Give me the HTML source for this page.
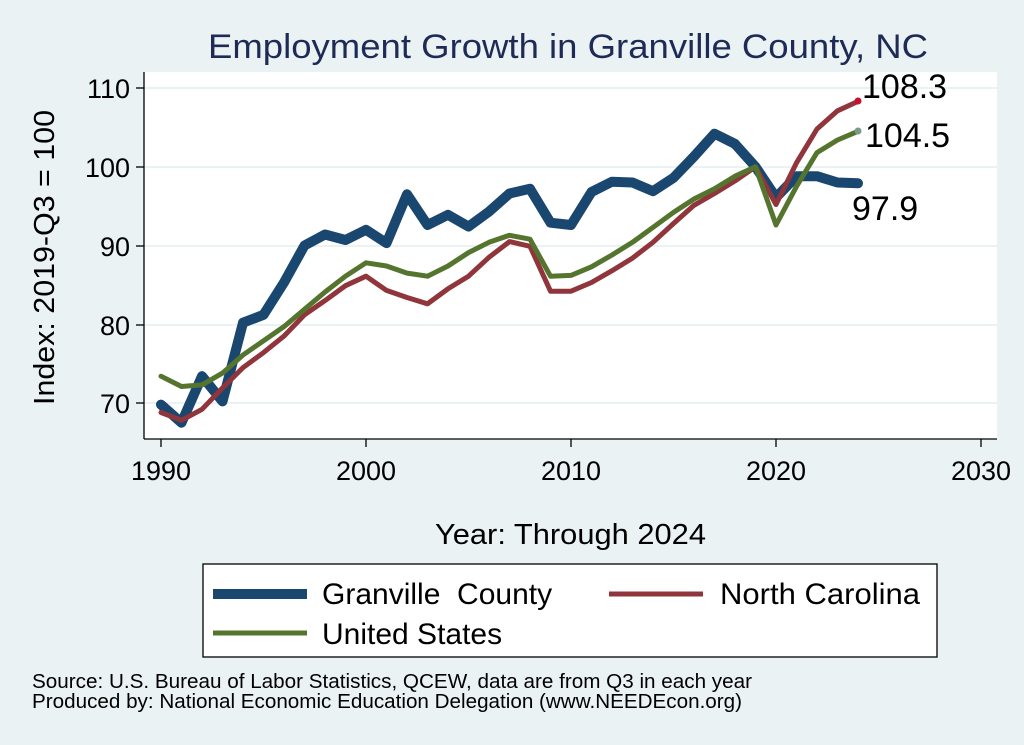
<!DOCTYPE html>
<html><head><meta charset="utf-8"><style>
html,body{margin:0;padding:0;background:#eaf2f3;}
svg{display:block;font-family:"Liberation Sans",Arial,sans-serif;}
</style></head><body>
<svg id="s" width="1024" height="745" viewBox="0 0 1024 745" xmlns="http://www.w3.org/2000/svg">
<rect width="1024" height="745" fill="#eaf2f3"/>
<rect x="144" y="72" width="853" height="367" fill="#ffffff"/>
<g stroke="#eaf2f3" stroke-width="2">
<line x1="144" x2="997" y1="88" y2="88"/><line x1="144" x2="997" y1="167" y2="167"/>
<line x1="144" x2="997" y1="246" y2="246"/><line x1="144" x2="997" y1="325" y2="325"/>
<line x1="144" x2="997" y1="403" y2="403"/></g>
<g stroke="#000" stroke-width="1.3">
<line x1="144" y1="72" x2="144" y2="439"/><line x1="144" y1="439" x2="997" y2="439"/>
<line x1="136" x2="144" y1="88" y2="88"/><line x1="136" x2="144" y1="167" y2="167"/>
<line x1="136" x2="144" y1="246" y2="246"/><line x1="136" x2="144" y1="325" y2="325"/>
<line x1="136" x2="144" y1="403" y2="403"/>
<line x1="161" x2="161" y1="439" y2="447"/><line x1="366" x2="366" y1="439" y2="447"/>
<line x1="571" x2="571" y1="439" y2="447"/><line x1="776" x2="776" y1="439" y2="447"/>
<line x1="981" x2="981" y1="439" y2="447"/></g>
<g font-size="27" fill="#000" text-anchor="end">
<text x="130" y="98">110</text><text x="130" y="177">100</text><text x="130" y="256">90</text>
<text x="130" y="335">80</text><text x="130" y="413">70</text></g>
<g font-size="27" fill="#000" text-anchor="middle">
<text x="161" y="480">1990</text><text x="366" y="480">2000</text><text x="571" y="480">2010</text>
<text x="776" y="480">2020</text><text x="981" y="480">2030</text></g>
<text x="435" y="544" font-size="29" textLength="271" lengthAdjust="spacingAndGlyphs">Year: Through 2024</text>
<text transform="translate(54,405) rotate(-90)" font-size="29" textLength="295" lengthAdjust="spacingAndGlyphs">Index: 2019-Q3 = 100</text>
<text x="208" y="58" font-size="34" fill="#1e2b57" textLength="720" lengthAdjust="spacingAndGlyphs">Employment Growth in Granville County, NC</text>
<g id="lines" fill="none" stroke-linejoin="round" stroke-linecap="round"></g>
<circle cx="858" cy="101" r="3.5" fill="#c8102e"/>
<circle cx="858" cy="131" r="3.5" fill="#7a9a8a"/>
<g font-size="34" fill="#000">
<text x="862" y="98">108.3</text><text x="865" y="147">104.5</text><text x="852" y="220">97.9</text></g>
<rect x="203" y="564" width="734" height="93" fill="#fff" stroke="#000" stroke-width="1.3"/>
<line x1="213" x2="307" y1="594" y2="594" stroke="#1a476f" stroke-width="10"/>
<line x1="609" x2="703" y1="594" y2="594" stroke="#90353b" stroke-width="5"/>
<line x1="213" x2="307" y1="633" y2="633" stroke="#55752f" stroke-width="5"/>
<g font-size="30" fill="#000">
<text x="322" y="604" xml:space="preserve">Granville  County</text><text x="720" y="604" textLength="200" lengthAdjust="spacingAndGlyphs">North Carolina</text>
<text x="322" y="644">United States</text></g>
<g font-size="20" fill="#000">
<text x="32" y="688" textLength="720" lengthAdjust="spacingAndGlyphs">Source: U.S. Bureau of Labor Statistics, QCEW, data are from Q3 in each year</text>
<text x="32" y="708" textLength="710" lengthAdjust="spacingAndGlyphs">Produced by: National Economic Education Delegation (www.NEEDEcon.org)</text></g>
</svg>
<script>
var G=[69.8,67.5,73.4,70.2,80.2,81.2,85.3,90.0,91.4,90.7,92.0,90.3,96.5,92.6,93.9,92.4,94.3,96.6,97.2,92.9,92.6,96.8,98.1,98.0,96.9,98.6,101.3,104.2,102.9,100,96.1,98.8,98.8,98.0,97.9];
var N=[68.8,67.8,69.2,71.9,74.5,76.4,78.5,81.2,83.0,84.9,86.1,84.3,83.4,82.6,84.5,86.1,88.5,90.5,89.9,84.2,84.2,85.3,86.8,88.4,90.4,92.8,95.1,96.6,98.2,100,95.2,100.5,104.8,107.1,108.3];
var U=[73.4,72.1,72.3,73.8,76.1,77.9,79.7,81.9,84.1,86.1,87.8,87.4,86.5,86.1,87.4,89.1,90.4,91.3,90.8,86.1,86.2,87.3,88.8,90.4,92.3,94.2,95.9,97.2,98.8,100,92.6,97.5,101.8,103.4,104.5];
function pts(a){return a.map(function(v,i){return (161+i*20.5).toFixed(1)+","+(88+(110-v)*7.875).toFixed(1)}).join(" ");}
var g=document.getElementById("lines"),ns="http://www.w3.org/2000/svg";
[[G,"#1a476f",10],[N,"#90353b",5],[U,"#55752f",5]].forEach(function(s){
var p=document.createElementNS(ns,"polyline");p.setAttribute("points",pts(s[0]));
p.setAttribute("stroke",s[1]);p.setAttribute("stroke-width",s[2]);g.appendChild(p);});
</script>
</body></html>
